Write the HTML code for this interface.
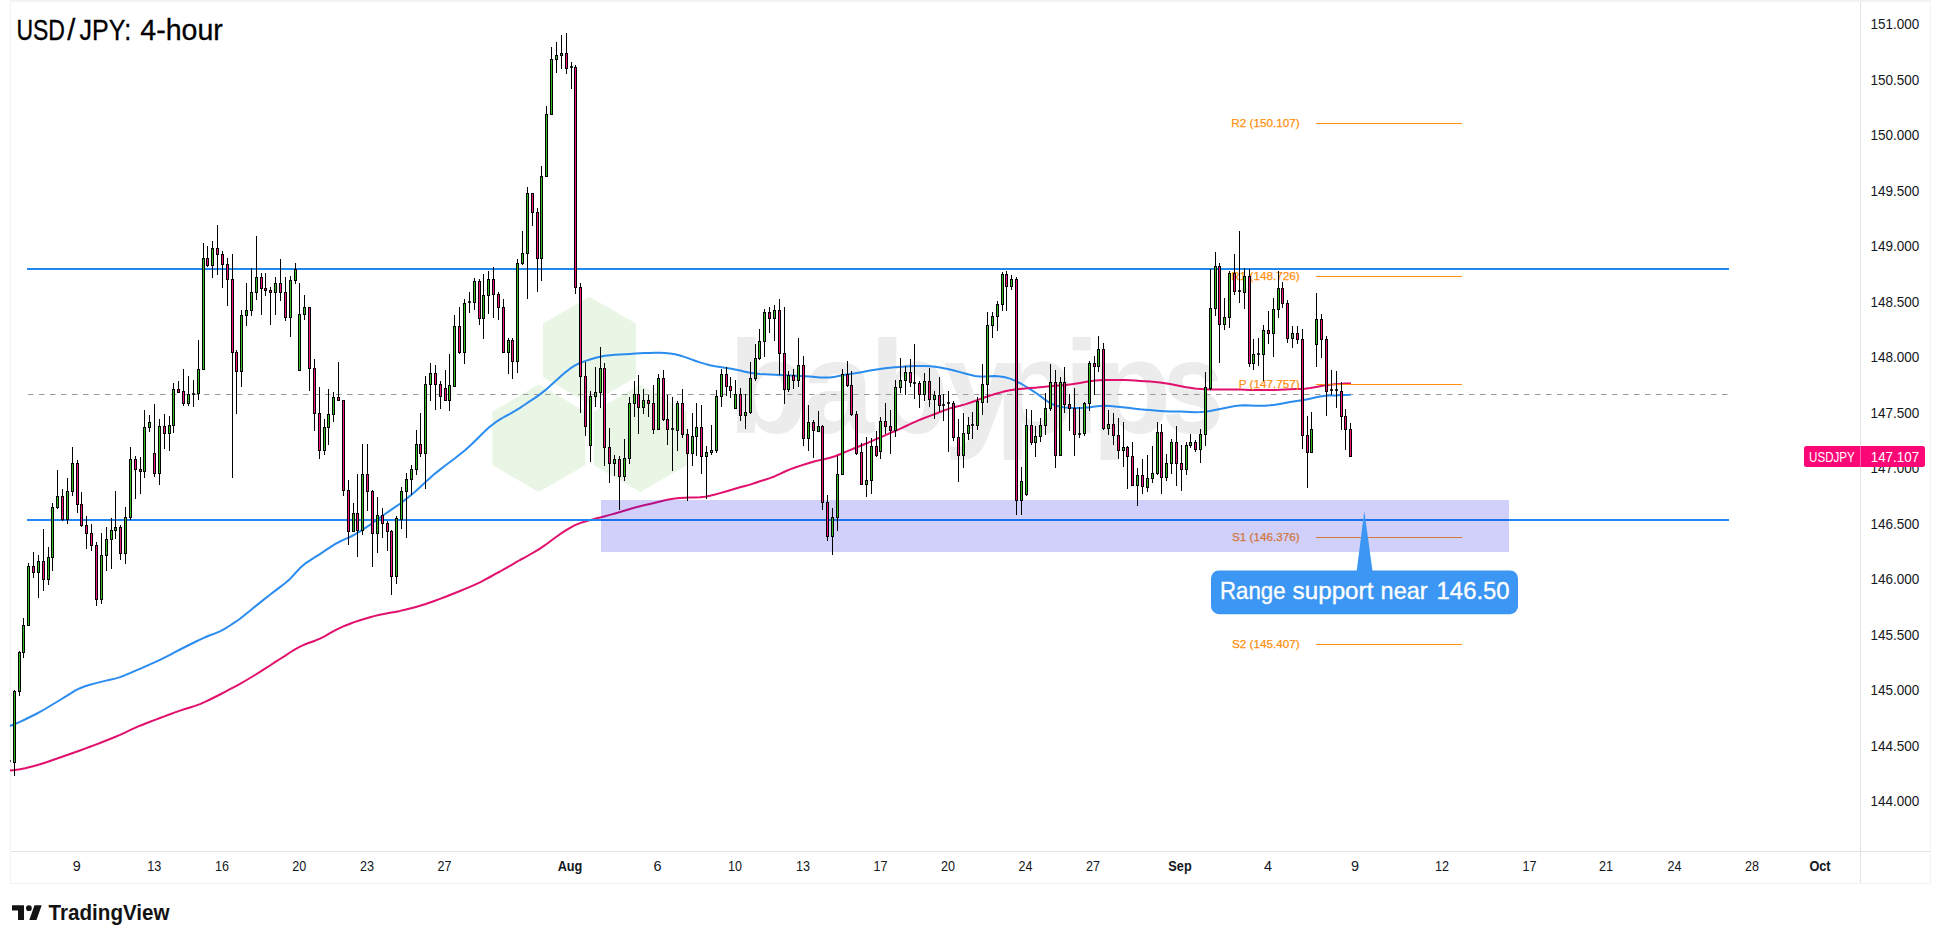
<!DOCTYPE html>
<html lang="en"><head><meta charset="utf-8"><title>USD/JPY: 4-hour</title>
<style>
html,body{margin:0;padding:0;background:#fff;}
body{width:1940px;height:943px;overflow:hidden;position:relative;font-family:"Liberation Sans",sans-serif;}
svg{position:absolute;left:0;top:0;display:block;}
text{font-family:"Liberation Sans",sans-serif;}
.ax{font-size:14.6px;fill:#131722;}
.tm{font-size:14.4px;fill:#131722;text-anchor:middle;}
.tmb{font-size:14.2px;fill:#131722;text-anchor:middle;font-weight:bold;}
.pv{font-size:11.7px;fill:#ff9010;text-anchor:end;stroke:#ff9010;stroke-width:0.25px;}
</style></head><body>
<svg width="1940" height="943" viewBox="0 0 1940 943">
<rect x="0" y="0" width="1940" height="943" fill="#ffffff"/>
<g shape-rendering="crispEdges">
<rect x="10" y="0" width="1921" height="2" fill="#f3f3f3"/>
<rect x="10" y="0" width="1" height="884" fill="#f3f3f3"/>
<rect x="1930" y="0" width="1" height="884" fill="#f3f3f3"/>
<rect x="10" y="883" width="1921" height="1" fill="#f3f3f3"/>
<rect x="11" y="851" width="1919" height="1" fill="#e2e2e6"/>
<rect x="1860" y="2" width="1" height="881" fill="#e2e2e6"/>
</g>
<g fill="#e9f6e6">
<polygon points="589.5,296.7 636.0,323.5 636.0,377.2 589.5,404.1 543.0,377.2 543.0,323.5"/>
<polygon points="538.8,384.6 585.3,411.4 585.3,465.2 538.8,492.0 492.3,465.2 492.3,411.4"/>
<polygon points="640.3,384.6 686.8,411.4 686.8,465.2 640.3,492.0 593.8,465.2 593.8,411.4"/>
</g>
<text y="433" font-size="131" font-weight="bold" fill="#ececec"><tspan x="728.3 801.4 869.3 943.4 994.7 1063.5 1091.6">babypip</tspan><tspan x="1162" textLength="62" lengthAdjust="spacingAndGlyphs">s</tspan></text>
<line x1="28" y1="394.5" x2="1727.5" y2="394.5" stroke="#9a9a9a" stroke-width="1" stroke-dasharray="5.5 5.5"/>
<path d="M10.0,726.0 L15.0,724.0 L20.0,721.8 L25.0,719.5 L30.0,717.0 L35.0,714.5 L40.0,711.8 L45.0,709.0 L50.0,706.0 L55.0,703.0 L60.0,700.0 L65.0,696.9 L70.0,693.8 L75.0,690.7 L80.0,688.2 L85.0,686.2 L90.0,684.8 L95.0,683.4 L100.0,682.1 L105.0,680.9 L110.0,679.8 L115.0,678.6 L120.0,677.1 L125.0,675.2 L130.0,673.1 L135.0,670.9 L140.0,668.8 L145.0,666.6 L150.0,664.4 L155.0,662.2 L160.0,659.8 L165.0,657.3 L170.0,654.8 L175.0,652.1 L180.0,649.5 L185.0,647.0 L190.0,644.5 L195.0,642.0 L200.0,639.6 L205.0,637.3 L210.0,635.3 L215.0,633.4 L220.0,631.3 L225.0,628.6 L230.0,625.5 L235.0,622.2 L240.0,618.7 L245.0,614.8 L250.0,610.8 L255.0,606.6 L260.0,602.6 L265.0,598.6 L270.0,594.8 L275.0,590.9 L280.0,587.1 L285.0,583.3 L290.0,578.9 L295.0,573.5 L300.0,568.1 L305.0,563.7 L310.0,560.3 L315.0,557.2 L320.0,554.1 L325.0,550.7 L330.0,547.3 L335.0,544.1 L340.0,541.5 L345.0,539.2 L350.0,537.0 L355.0,534.4 L360.0,531.4 L365.0,528.2 L370.0,524.8 L375.0,521.2 L380.0,517.6 L385.0,514.0 L390.0,510.6 L395.0,507.2 L400.0,503.7 L405.0,499.9 L410.0,495.9 L415.0,491.7 L420.0,487.2 L425.0,482.5 L430.0,477.9 L435.0,473.6 L440.0,469.6 L445.0,465.8 L450.0,462.0 L455.0,458.2 L460.0,454.3 L465.0,450.2 L470.0,445.7 L475.0,441.0 L480.0,436.0 L485.0,431.1 L490.0,426.6 L495.0,422.7 L500.0,419.4 L505.0,416.5 L510.0,413.8 L515.0,410.9 L520.0,407.8 L525.0,404.5 L530.0,401.2 L535.0,397.9 L540.0,394.4 L545.0,390.4 L550.0,386.0 L555.0,381.5 L560.0,377.0 L565.0,372.6 L570.0,368.7 L575.0,365.4 L580.0,363.0 L585.0,361.1 L590.0,359.5 L595.0,358.0 L600.0,356.8 L605.0,355.8 L610.0,355.2 L615.0,354.8 L620.0,354.5 L625.0,354.2 L630.0,353.9 L635.0,353.5 L640.0,353.2 L645.0,353.0 L650.0,352.9 L655.0,352.8 L660.0,352.8 L665.0,353.1 L670.0,353.6 L675.0,354.3 L680.0,355.5 L685.0,357.1 L690.0,358.9 L695.0,360.7 L700.0,362.4 L705.0,363.9 L710.0,365.2 L715.0,366.2 L720.0,367.0 L725.0,367.8 L730.0,368.6 L735.0,369.5 L740.0,370.6 L745.0,371.7 L750.0,372.7 L755.0,373.4 L760.0,373.9 L765.0,374.2 L770.0,374.5 L775.0,374.8 L780.0,375.0 L785.0,375.2 L790.0,375.5 L795.0,375.8 L800.0,376.0 L805.0,376.3 L810.0,376.6 L815.0,377.0 L820.0,377.4 L825.0,377.6 L830.0,377.4 L835.0,376.7 L840.0,375.7 L845.0,374.8 L850.0,374.0 L855.0,373.2 L860.0,372.4 L865.0,371.5 L870.0,370.6 L875.0,369.8 L880.0,369.0 L885.0,368.3 L890.0,367.7 L895.0,367.3 L900.0,366.9 L905.0,366.5 L910.0,366.2 L915.0,366.0 L920.0,366.0 L925.0,366.0 L930.0,366.3 L935.0,366.8 L940.0,367.6 L945.0,368.5 L950.0,369.6 L955.0,370.8 L960.0,372.1 L965.0,373.5 L970.0,374.8 L975.0,375.9 L980.0,376.4 L985.0,376.4 L990.0,376.2 L995.0,376.1 L1000.0,376.4 L1005.0,377.2 L1010.0,378.6 L1015.0,380.6 L1020.0,383.2 L1025.0,386.0 L1030.0,389.1 L1035.0,392.3 L1040.0,395.9 L1045.0,399.6 L1050.0,403.0 L1055.0,405.3 L1060.0,406.6 L1065.0,407.4 L1070.0,407.8 L1075.0,408.0 L1080.0,407.9 L1085.0,407.7 L1090.0,407.2 L1095.0,406.5 L1100.0,406.0 L1105.0,405.8 L1110.0,406.1 L1115.0,406.5 L1120.0,407.0 L1125.0,407.5 L1130.0,408.1 L1135.0,408.7 L1140.0,409.3 L1145.0,409.7 L1150.0,410.1 L1155.0,410.5 L1160.0,410.9 L1165.0,411.2 L1170.0,411.4 L1175.0,411.5 L1180.0,411.6 L1185.0,411.8 L1190.0,412.0 L1195.0,412.2 L1200.0,412.1 L1205.0,411.7 L1210.0,410.9 L1215.0,410.0 L1220.0,409.0 L1225.0,408.0 L1230.0,407.0 L1235.0,406.1 L1240.0,405.5 L1245.0,405.3 L1250.0,405.5 L1255.0,405.7 L1260.0,405.8 L1265.0,405.7 L1270.0,405.3 L1275.0,404.7 L1280.0,403.9 L1285.0,403.0 L1290.0,402.1 L1295.0,401.3 L1300.0,400.5 L1305.0,399.7 L1310.0,398.7 L1315.0,397.5 L1320.0,396.5 L1325.0,395.8 L1330.0,395.6 L1335.0,395.5 L1340.0,395.3 L1345.0,395.0 L1350.0,394.7 L1350.8,394.5" fill="none" stroke="#2b8cf0" stroke-width="2" stroke-linejoin="round"/>
<path d="M10.0,770.5 L15.0,770.0 L20.0,769.2 L25.0,768.2 L30.0,767.0 L35.0,765.7 L40.0,764.3 L45.0,762.7 L50.0,761.0 L55.0,759.2 L60.0,757.5 L65.0,755.8 L70.0,754.0 L75.0,752.2 L80.0,750.5 L85.0,748.6 L90.0,746.8 L95.0,744.9 L100.0,743.0 L105.0,741.0 L110.0,739.0 L115.0,737.0 L120.0,734.9 L125.0,732.6 L130.0,730.2 L135.0,727.9 L140.0,725.7 L145.0,723.7 L150.0,721.8 L155.0,719.9 L160.0,718.0 L165.0,716.1 L170.0,714.2 L175.0,712.4 L180.0,710.6 L185.0,709.0 L190.0,707.5 L195.0,705.9 L200.0,704.1 L205.0,701.9 L210.0,699.5 L215.0,697.0 L220.0,694.5 L225.0,691.9 L230.0,689.2 L235.0,686.6 L240.0,683.9 L245.0,681.0 L250.0,678.0 L255.0,675.0 L260.0,671.9 L265.0,668.7 L270.0,665.5 L275.0,662.2 L280.0,659.0 L285.0,655.8 L290.0,652.5 L295.0,649.3 L300.0,646.6 L305.0,644.3 L310.0,642.5 L315.0,640.7 L320.0,638.6 L325.0,636.1 L330.0,633.2 L335.0,630.4 L340.0,627.9 L345.0,625.7 L350.0,623.8 L355.0,621.9 L360.0,620.2 L365.0,618.7 L370.0,617.2 L375.0,615.9 L380.0,614.7 L385.0,613.7 L390.0,612.8 L395.0,611.9 L400.0,610.9 L405.0,609.7 L410.0,608.5 L415.0,607.2 L420.0,605.8 L425.0,604.2 L430.0,602.5 L435.0,600.7 L440.0,598.9 L445.0,597.0 L450.0,595.0 L455.0,593.0 L460.0,591.0 L465.0,588.9 L470.0,586.8 L475.0,584.6 L480.0,582.3 L485.0,579.7 L490.0,577.0 L495.0,574.2 L500.0,571.5 L505.0,568.6 L510.0,565.8 L515.0,562.9 L520.0,560.0 L525.0,557.3 L530.0,554.5 L535.0,551.7 L540.0,548.6 L545.0,545.2 L550.0,541.5 L555.0,537.8 L560.0,534.2 L565.0,530.9 L570.0,527.8 L575.0,525.1 L580.0,523.1 L585.0,521.5 L590.0,520.1 L595.0,518.8 L600.0,517.5 L605.0,516.2 L610.0,514.9 L615.0,513.5 L620.0,512.0 L625.0,510.5 L630.0,509.0 L635.0,507.5 L640.0,506.2 L645.0,505.0 L650.0,503.9 L655.0,502.7 L660.0,501.5 L665.0,500.3 L670.0,499.3 L675.0,498.6 L680.0,498.1 L685.0,497.8 L690.0,497.6 L695.0,497.5 L700.0,497.2 L705.0,496.7 L710.0,495.7 L715.0,494.5 L720.0,493.1 L725.0,491.7 L730.0,490.3 L735.0,488.8 L740.0,487.3 L745.0,486.0 L750.0,484.6 L755.0,483.0 L760.0,481.3 L765.0,479.7 L770.0,478.1 L775.0,476.2 L780.0,473.9 L785.0,471.5 L790.0,469.4 L795.0,467.5 L800.0,465.9 L805.0,464.3 L810.0,462.7 L815.0,461.3 L820.0,460.1 L825.0,459.0 L830.0,457.7 L835.0,456.2 L840.0,454.3 L845.0,452.2 L850.0,450.1 L855.0,448.0 L860.0,446.0 L865.0,444.0 L870.0,441.9 L875.0,439.7 L880.0,437.5 L885.0,435.3 L890.0,433.1 L895.0,431.0 L900.0,428.8 L905.0,426.5 L910.0,424.1 L915.0,421.8 L920.0,419.7 L925.0,417.8 L930.0,415.9 L935.0,414.0 L940.0,412.0 L945.0,410.1 L950.0,408.4 L955.0,407.0 L960.0,405.8 L965.0,404.4 L970.0,402.8 L975.0,401.0 L980.0,399.1 L985.0,397.3 L990.0,395.6 L995.0,394.0 L1000.0,392.6 L1005.0,391.3 L1010.0,390.3 L1015.0,389.5 L1020.0,389.0 L1025.0,388.5 L1030.0,388.1 L1035.0,387.7 L1040.0,387.3 L1045.0,386.8 L1050.0,386.2 L1055.0,385.8 L1060.0,385.4 L1065.0,385.0 L1070.0,384.4 L1075.0,383.7 L1080.0,382.9 L1085.0,382.0 L1090.0,381.2 L1095.0,380.6 L1100.0,380.2 L1105.0,380.0 L1110.0,380.0 L1115.0,380.0 L1120.0,380.0 L1125.0,380.0 L1130.0,380.2 L1135.0,380.5 L1140.0,380.9 L1145.0,381.2 L1150.0,381.6 L1155.0,382.0 L1160.0,382.6 L1165.0,383.3 L1170.0,384.1 L1175.0,385.0 L1180.0,386.0 L1185.0,387.0 L1190.0,387.8 L1195.0,388.5 L1200.0,388.9 L1205.0,389.2 L1210.0,389.4 L1215.0,389.5 L1220.0,389.5 L1225.0,389.5 L1230.0,389.5 L1235.0,389.5 L1240.0,389.6 L1245.0,389.8 L1250.0,389.9 L1255.0,390.0 L1260.0,390.0 L1265.0,390.0 L1270.0,390.0 L1275.0,390.0 L1280.0,389.8 L1285.0,389.5 L1290.0,389.2 L1295.0,389.0 L1300.0,388.9 L1305.0,388.7 L1310.0,388.1 L1315.0,387.2 L1320.0,386.2 L1325.0,385.3 L1330.0,384.7 L1335.0,384.3 L1340.0,383.9 L1345.0,383.5 L1350.0,383.2 L1350.8,383.0" fill="none" stroke="#e0106c" stroke-width="2" stroke-linejoin="round"/>
<g shape-rendering="crispEdges" fill="#2088ef">
<rect x="27" y="268" width="1702" height="2"/>
<rect x="27" y="519" width="1702" height="2"/>
</g>
<rect x="1316" y="123" width="146" height="1" fill="#ff9010" shape-rendering="crispEdges"/>
<text class="pv" x="1299.6" y="126.8">R2 (150.107)</text>
<rect x="1316" y="276" width="146" height="1" fill="#ff9010" shape-rendering="crispEdges"/>
<text class="pv" x="1299.6" y="279.8">R1 (148.726)</text>
<rect x="1316" y="384" width="146" height="1" fill="#ff9010" shape-rendering="crispEdges"/>
<text class="pv" x="1299.6" y="387.8">P (147.757)</text>
<rect x="1316" y="537" width="146" height="1" fill="#ff9010" shape-rendering="crispEdges"/>
<text class="pv" x="1299.6" y="540.8">S1 (146.376)</text>
<rect x="1316" y="644" width="146" height="1" fill="#ff9010" shape-rendering="crispEdges"/>
<text class="pv" x="1299.6" y="647.8">S2 (145.407)</text>
<rect x="601" y="500" width="908" height="52" fill="rgb(20,20,230)" fill-opacity="0.2" shape-rendering="crispEdges"/>
<g shape-rendering="crispEdges">
<rect x="14" y="690" width="1" height="86" fill="#000"/>
<rect x="13" y="691" width="3" height="72" fill="#000"/>
<rect x="14" y="692" width="1" height="70" fill="#33bb22"/>
<rect x="19" y="651" width="1" height="45" fill="#000"/>
<rect x="18" y="652" width="3" height="40" fill="#000"/>
<rect x="19" y="653" width="1" height="38" fill="#33bb22"/>
<rect x="23" y="618" width="1" height="40" fill="#000"/>
<rect x="22" y="625" width="3" height="28" fill="#000"/>
<rect x="23" y="626" width="1" height="26" fill="#33bb22"/>
<rect x="28" y="563" width="1" height="63" fill="#000"/>
<rect x="27" y="566" width="3" height="60" fill="#000"/>
<rect x="28" y="567" width="1" height="58" fill="#33bb22"/>
<rect x="33" y="552" width="1" height="26" fill="#000"/>
<rect x="32" y="566" width="3" height="7" fill="#000"/>
<rect x="33" y="567" width="1" height="5" fill="#f0147c"/>
<rect x="38" y="555" width="1" height="43" fill="#000"/>
<rect x="37" y="561" width="3" height="12" fill="#000"/>
<rect x="38" y="562" width="1" height="10" fill="#33bb22"/>
<rect x="43" y="529" width="1" height="62" fill="#000"/>
<rect x="42" y="561" width="3" height="19" fill="#000"/>
<rect x="43" y="562" width="1" height="17" fill="#f0147c"/>
<rect x="48" y="547" width="1" height="38" fill="#000"/>
<rect x="47" y="557" width="3" height="23" fill="#000"/>
<rect x="48" y="558" width="1" height="21" fill="#33bb22"/>
<rect x="52" y="503" width="1" height="68" fill="#000"/>
<rect x="51" y="507" width="3" height="51" fill="#000"/>
<rect x="52" y="508" width="1" height="49" fill="#33bb22"/>
<rect x="57" y="470" width="1" height="39" fill="#000"/>
<rect x="56" y="496" width="3" height="12" fill="#000"/>
<rect x="57" y="497" width="1" height="10" fill="#33bb22"/>
<rect x="62" y="489" width="1" height="32" fill="#000"/>
<rect x="61" y="496" width="3" height="24" fill="#000"/>
<rect x="62" y="497" width="1" height="22" fill="#f0147c"/>
<rect x="67" y="478" width="1" height="46" fill="#000"/>
<rect x="66" y="491" width="3" height="29" fill="#000"/>
<rect x="67" y="492" width="1" height="27" fill="#33bb22"/>
<rect x="72" y="447" width="1" height="49" fill="#000"/>
<rect x="71" y="463" width="3" height="29" fill="#000"/>
<rect x="72" y="464" width="1" height="27" fill="#33bb22"/>
<rect x="77" y="460" width="1" height="53" fill="#000"/>
<rect x="76" y="463" width="3" height="42" fill="#000"/>
<rect x="77" y="464" width="1" height="40" fill="#f0147c"/>
<rect x="81" y="492" width="1" height="35" fill="#000"/>
<rect x="80" y="504" width="3" height="22" fill="#000"/>
<rect x="81" y="505" width="1" height="20" fill="#f0147c"/>
<rect x="86" y="516" width="1" height="33" fill="#000"/>
<rect x="85" y="525" width="3" height="9" fill="#000"/>
<rect x="86" y="526" width="1" height="7" fill="#f0147c"/>
<rect x="91" y="524" width="1" height="27" fill="#000"/>
<rect x="90" y="533" width="3" height="13" fill="#000"/>
<rect x="91" y="534" width="1" height="11" fill="#f0147c"/>
<rect x="96" y="542" width="1" height="64" fill="#000"/>
<rect x="95" y="545" width="3" height="55" fill="#000"/>
<rect x="96" y="546" width="1" height="53" fill="#f0147c"/>
<rect x="101" y="533" width="1" height="71" fill="#000"/>
<rect x="100" y="555" width="3" height="45" fill="#000"/>
<rect x="101" y="556" width="1" height="43" fill="#33bb22"/>
<rect x="106" y="527" width="1" height="44" fill="#000"/>
<rect x="105" y="539" width="3" height="17" fill="#000"/>
<rect x="106" y="540" width="1" height="15" fill="#33bb22"/>
<rect x="111" y="518" width="1" height="51" fill="#000"/>
<rect x="110" y="530" width="3" height="10" fill="#000"/>
<rect x="111" y="531" width="1" height="8" fill="#33bb22"/>
<rect x="115" y="491" width="1" height="48" fill="#000"/>
<rect x="114" y="527" width="3" height="4" fill="#000"/>
<rect x="115" y="528" width="1" height="2" fill="#33bb22"/>
<rect x="120" y="525" width="1" height="35" fill="#000"/>
<rect x="119" y="527" width="3" height="27" fill="#000"/>
<rect x="120" y="528" width="1" height="25" fill="#f0147c"/>
<rect x="125" y="507" width="1" height="57" fill="#000"/>
<rect x="124" y="517" width="3" height="37" fill="#000"/>
<rect x="125" y="518" width="1" height="35" fill="#33bb22"/>
<rect x="130" y="447" width="1" height="73" fill="#000"/>
<rect x="129" y="459" width="3" height="59" fill="#000"/>
<rect x="130" y="460" width="1" height="57" fill="#33bb22"/>
<rect x="135" y="456" width="1" height="43" fill="#000"/>
<rect x="134" y="459" width="3" height="11" fill="#000"/>
<rect x="135" y="460" width="1" height="9" fill="#f0147c"/>
<rect x="140" y="457" width="1" height="37" fill="#000"/>
<rect x="139" y="469" width="3" height="3" fill="#000"/>
<rect x="140" y="470" width="1" height="1" fill="#f0147c"/>
<rect x="144" y="410" width="1" height="68" fill="#000"/>
<rect x="143" y="427" width="3" height="45" fill="#000"/>
<rect x="144" y="428" width="1" height="43" fill="#33bb22"/>
<rect x="149" y="415" width="1" height="17" fill="#000"/>
<rect x="148" y="422" width="3" height="6" fill="#000"/>
<rect x="149" y="423" width="1" height="4" fill="#33bb22"/>
<rect x="154" y="404" width="1" height="73" fill="#000"/>
<rect x="153" y="453" width="3" height="21" fill="#000"/>
<rect x="154" y="454" width="1" height="19" fill="#f0147c"/>
<rect x="159" y="419" width="1" height="66" fill="#000"/>
<rect x="158" y="426" width="3" height="48" fill="#000"/>
<rect x="159" y="427" width="1" height="46" fill="#33bb22"/>
<rect x="164" y="414" width="1" height="35" fill="#000"/>
<rect x="163" y="426" width="3" height="8" fill="#000"/>
<rect x="164" y="427" width="1" height="6" fill="#f0147c"/>
<rect x="169" y="416" width="1" height="35" fill="#000"/>
<rect x="168" y="425" width="3" height="9" fill="#000"/>
<rect x="169" y="426" width="1" height="7" fill="#33bb22"/>
<rect x="173" y="383" width="1" height="50" fill="#000"/>
<rect x="172" y="389" width="3" height="37" fill="#000"/>
<rect x="173" y="390" width="1" height="35" fill="#33bb22"/>
<rect x="178" y="381" width="1" height="12" fill="#000"/>
<rect x="177" y="389" width="3" height="4" fill="#000"/>
<rect x="178" y="390" width="1" height="2" fill="#f0147c"/>
<rect x="183" y="369" width="1" height="37" fill="#000"/>
<rect x="182" y="391" width="3" height="13" fill="#000"/>
<rect x="183" y="392" width="1" height="11" fill="#f0147c"/>
<rect x="188" y="376" width="1" height="30" fill="#000"/>
<rect x="187" y="394" width="3" height="10" fill="#000"/>
<rect x="188" y="395" width="1" height="8" fill="#33bb22"/>
<rect x="193" y="380" width="1" height="27" fill="#000"/>
<rect x="192" y="393" width="3" height="2" fill="#000" fill-opacity="0.8"/>
<rect x="198" y="340" width="1" height="60" fill="#000"/>
<rect x="197" y="369" width="3" height="25" fill="#000"/>
<rect x="198" y="370" width="1" height="23" fill="#33bb22"/>
<rect x="203" y="243" width="1" height="127" fill="#000"/>
<rect x="202" y="258" width="3" height="112" fill="#000"/>
<rect x="203" y="259" width="1" height="110" fill="#33bb22"/>
<rect x="207" y="246" width="1" height="21" fill="#000"/>
<rect x="206" y="258" width="3" height="8" fill="#000"/>
<rect x="207" y="259" width="1" height="6" fill="#f0147c"/>
<rect x="212" y="241" width="1" height="37" fill="#000"/>
<rect x="211" y="248" width="3" height="18" fill="#000"/>
<rect x="212" y="249" width="1" height="16" fill="#33bb22"/>
<rect x="217" y="225" width="1" height="50" fill="#000"/>
<rect x="216" y="248" width="3" height="7" fill="#000"/>
<rect x="217" y="249" width="1" height="5" fill="#f0147c"/>
<rect x="222" y="251" width="1" height="37" fill="#000"/>
<rect x="221" y="254" width="3" height="11" fill="#000"/>
<rect x="222" y="255" width="1" height="9" fill="#f0147c"/>
<rect x="227" y="258" width="1" height="48" fill="#000"/>
<rect x="226" y="264" width="3" height="16" fill="#000"/>
<rect x="227" y="265" width="1" height="14" fill="#f0147c"/>
<rect x="232" y="254" width="1" height="224" fill="#000"/>
<rect x="231" y="279" width="3" height="74" fill="#000"/>
<rect x="232" y="280" width="1" height="72" fill="#f0147c"/>
<rect x="236" y="350" width="1" height="64" fill="#000"/>
<rect x="235" y="352" width="3" height="20" fill="#000"/>
<rect x="236" y="353" width="1" height="18" fill="#f0147c"/>
<rect x="241" y="310" width="1" height="77" fill="#000"/>
<rect x="240" y="315" width="3" height="57" fill="#000"/>
<rect x="241" y="316" width="1" height="55" fill="#33bb22"/>
<rect x="246" y="283" width="1" height="43" fill="#000"/>
<rect x="245" y="310" width="3" height="6" fill="#000"/>
<rect x="246" y="311" width="1" height="4" fill="#33bb22"/>
<rect x="251" y="268" width="1" height="48" fill="#000"/>
<rect x="250" y="292" width="3" height="19" fill="#000"/>
<rect x="251" y="293" width="1" height="17" fill="#33bb22"/>
<rect x="256" y="236" width="1" height="64" fill="#000"/>
<rect x="255" y="277" width="3" height="16" fill="#000"/>
<rect x="256" y="278" width="1" height="14" fill="#33bb22"/>
<rect x="261" y="273" width="1" height="42" fill="#000"/>
<rect x="260" y="277" width="3" height="12" fill="#000"/>
<rect x="261" y="278" width="1" height="10" fill="#f0147c"/>
<rect x="265" y="273" width="1" height="23" fill="#000"/>
<rect x="264" y="288" width="3" height="3" fill="#000"/>
<rect x="265" y="289" width="1" height="1" fill="#f0147c"/>
<rect x="270" y="287" width="1" height="38" fill="#000"/>
<rect x="269" y="290" width="3" height="3" fill="#000"/>
<rect x="270" y="291" width="1" height="1" fill="#f0147c"/>
<rect x="275" y="277" width="1" height="38" fill="#000"/>
<rect x="274" y="283" width="3" height="10" fill="#000"/>
<rect x="275" y="284" width="1" height="8" fill="#33bb22"/>
<rect x="280" y="259" width="1" height="42" fill="#000"/>
<rect x="279" y="283" width="3" height="10" fill="#000"/>
<rect x="280" y="284" width="1" height="8" fill="#f0147c"/>
<rect x="285" y="277" width="1" height="44" fill="#000"/>
<rect x="284" y="292" width="3" height="26" fill="#000"/>
<rect x="285" y="293" width="1" height="24" fill="#f0147c"/>
<rect x="290" y="276" width="1" height="61" fill="#000"/>
<rect x="289" y="280" width="3" height="38" fill="#000"/>
<rect x="290" y="281" width="1" height="36" fill="#33bb22"/>
<rect x="295" y="263" width="1" height="21" fill="#000"/>
<rect x="294" y="269" width="3" height="12" fill="#000"/>
<rect x="295" y="270" width="1" height="10" fill="#33bb22"/>
<rect x="299" y="283" width="1" height="88" fill="#000"/>
<rect x="298" y="314" width="3" height="57" fill="#000"/>
<rect x="299" y="315" width="1" height="55" fill="#33bb22"/>
<rect x="304" y="295" width="1" height="25" fill="#000"/>
<rect x="303" y="307" width="3" height="8" fill="#000"/>
<rect x="304" y="308" width="1" height="6" fill="#33bb22"/>
<rect x="309" y="307" width="1" height="84" fill="#000"/>
<rect x="308" y="307" width="3" height="62" fill="#000"/>
<rect x="309" y="308" width="1" height="60" fill="#f0147c"/>
<rect x="314" y="359" width="1" height="72" fill="#000"/>
<rect x="313" y="368" width="3" height="46" fill="#000"/>
<rect x="314" y="369" width="1" height="44" fill="#f0147c"/>
<rect x="319" y="387" width="1" height="72" fill="#000"/>
<rect x="318" y="413" width="3" height="38" fill="#000"/>
<rect x="319" y="414" width="1" height="36" fill="#f0147c"/>
<rect x="324" y="419" width="1" height="36" fill="#000"/>
<rect x="323" y="427" width="3" height="24" fill="#000"/>
<rect x="324" y="428" width="1" height="22" fill="#33bb22"/>
<rect x="328" y="389" width="1" height="56" fill="#000"/>
<rect x="327" y="414" width="3" height="14" fill="#000"/>
<rect x="328" y="415" width="1" height="12" fill="#33bb22"/>
<rect x="333" y="392" width="1" height="30" fill="#000"/>
<rect x="332" y="397" width="3" height="18" fill="#000"/>
<rect x="333" y="398" width="1" height="16" fill="#33bb22"/>
<rect x="338" y="362" width="1" height="39" fill="#000"/>
<rect x="337" y="397" width="3" height="4" fill="#000"/>
<rect x="338" y="398" width="1" height="2" fill="#f0147c"/>
<rect x="343" y="400" width="1" height="96" fill="#000"/>
<rect x="342" y="400" width="3" height="91" fill="#000"/>
<rect x="343" y="401" width="1" height="89" fill="#f0147c"/>
<rect x="348" y="480" width="1" height="65" fill="#000"/>
<rect x="347" y="490" width="3" height="42" fill="#000"/>
<rect x="348" y="491" width="1" height="40" fill="#f0147c"/>
<rect x="353" y="503" width="1" height="29" fill="#000"/>
<rect x="352" y="513" width="3" height="19" fill="#000"/>
<rect x="353" y="514" width="1" height="17" fill="#33bb22"/>
<rect x="357" y="474" width="1" height="83" fill="#000"/>
<rect x="356" y="513" width="3" height="18" fill="#000"/>
<rect x="357" y="514" width="1" height="16" fill="#f0147c"/>
<rect x="362" y="444" width="1" height="91" fill="#000"/>
<rect x="361" y="474" width="3" height="57" fill="#000"/>
<rect x="362" y="475" width="1" height="55" fill="#33bb22"/>
<rect x="367" y="444" width="1" height="67" fill="#000"/>
<rect x="366" y="474" width="3" height="18" fill="#000"/>
<rect x="367" y="475" width="1" height="16" fill="#f0147c"/>
<rect x="372" y="490" width="1" height="77" fill="#000"/>
<rect x="371" y="491" width="3" height="43" fill="#000"/>
<rect x="372" y="492" width="1" height="41" fill="#f0147c"/>
<rect x="377" y="497" width="1" height="56" fill="#000"/>
<rect x="376" y="515" width="3" height="19" fill="#000"/>
<rect x="377" y="516" width="1" height="17" fill="#33bb22"/>
<rect x="382" y="508" width="1" height="30" fill="#000"/>
<rect x="381" y="515" width="3" height="9" fill="#000"/>
<rect x="382" y="516" width="1" height="7" fill="#f0147c"/>
<rect x="387" y="521" width="1" height="30" fill="#000"/>
<rect x="386" y="523" width="3" height="9" fill="#000"/>
<rect x="387" y="524" width="1" height="7" fill="#f0147c"/>
<rect x="391" y="530" width="1" height="65" fill="#000"/>
<rect x="390" y="531" width="3" height="46" fill="#000"/>
<rect x="391" y="532" width="1" height="44" fill="#f0147c"/>
<rect x="396" y="516" width="1" height="68" fill="#000"/>
<rect x="395" y="518" width="3" height="59" fill="#000"/>
<rect x="396" y="519" width="1" height="57" fill="#33bb22"/>
<rect x="401" y="487" width="1" height="42" fill="#000"/>
<rect x="400" y="491" width="3" height="29" fill="#000"/>
<rect x="401" y="492" width="1" height="27" fill="#33bb22"/>
<rect x="406" y="473" width="1" height="65" fill="#000"/>
<rect x="405" y="479" width="3" height="13" fill="#000"/>
<rect x="406" y="480" width="1" height="11" fill="#33bb22"/>
<rect x="411" y="465" width="1" height="30" fill="#000"/>
<rect x="410" y="469" width="3" height="11" fill="#000"/>
<rect x="411" y="470" width="1" height="9" fill="#33bb22"/>
<rect x="416" y="430" width="1" height="45" fill="#000"/>
<rect x="415" y="444" width="3" height="26" fill="#000"/>
<rect x="416" y="445" width="1" height="24" fill="#33bb22"/>
<rect x="420" y="413" width="1" height="44" fill="#000"/>
<rect x="419" y="444" width="3" height="10" fill="#000"/>
<rect x="420" y="445" width="1" height="8" fill="#f0147c"/>
<rect x="425" y="376" width="1" height="113" fill="#000"/>
<rect x="424" y="384" width="3" height="70" fill="#000"/>
<rect x="425" y="385" width="1" height="68" fill="#33bb22"/>
<rect x="430" y="363" width="1" height="38" fill="#000"/>
<rect x="429" y="373" width="3" height="12" fill="#000"/>
<rect x="430" y="374" width="1" height="10" fill="#33bb22"/>
<rect x="435" y="365" width="1" height="45" fill="#000"/>
<rect x="434" y="373" width="3" height="12" fill="#000"/>
<rect x="435" y="374" width="1" height="10" fill="#f0147c"/>
<rect x="440" y="381" width="1" height="28" fill="#000"/>
<rect x="439" y="384" width="3" height="13" fill="#000"/>
<rect x="440" y="385" width="1" height="11" fill="#f0147c"/>
<rect x="445" y="370" width="1" height="31" fill="#000"/>
<rect x="444" y="388" width="3" height="13" fill="#000"/>
<rect x="445" y="389" width="1" height="11" fill="#f0147c"/>
<rect x="449" y="354" width="1" height="57" fill="#000"/>
<rect x="448" y="385" width="3" height="16" fill="#000"/>
<rect x="449" y="386" width="1" height="14" fill="#33bb22"/>
<rect x="454" y="315" width="1" height="72" fill="#000"/>
<rect x="453" y="326" width="3" height="61" fill="#000"/>
<rect x="454" y="327" width="1" height="59" fill="#33bb22"/>
<rect x="459" y="307" width="1" height="47" fill="#000"/>
<rect x="458" y="326" width="3" height="27" fill="#000"/>
<rect x="459" y="327" width="1" height="25" fill="#f0147c"/>
<rect x="464" y="299" width="1" height="65" fill="#000"/>
<rect x="463" y="303" width="3" height="50" fill="#000"/>
<rect x="464" y="304" width="1" height="48" fill="#33bb22"/>
<rect x="469" y="292" width="1" height="21" fill="#000"/>
<rect x="468" y="301" width="3" height="2" fill="#000" fill-opacity="0.8"/>
<rect x="474" y="278" width="1" height="32" fill="#000"/>
<rect x="473" y="281" width="3" height="22" fill="#000"/>
<rect x="474" y="282" width="1" height="20" fill="#33bb22"/>
<rect x="479" y="279" width="1" height="46" fill="#000"/>
<rect x="478" y="281" width="3" height="38" fill="#000"/>
<rect x="479" y="282" width="1" height="36" fill="#f0147c"/>
<rect x="483" y="274" width="1" height="65" fill="#000"/>
<rect x="482" y="295" width="3" height="24" fill="#000"/>
<rect x="483" y="296" width="1" height="22" fill="#33bb22"/>
<rect x="488" y="271" width="1" height="43" fill="#000"/>
<rect x="487" y="279" width="3" height="17" fill="#000"/>
<rect x="488" y="280" width="1" height="15" fill="#33bb22"/>
<rect x="493" y="267" width="1" height="51" fill="#000"/>
<rect x="492" y="279" width="3" height="16" fill="#000"/>
<rect x="493" y="280" width="1" height="14" fill="#f0147c"/>
<rect x="498" y="292" width="1" height="28" fill="#000"/>
<rect x="497" y="294" width="3" height="14" fill="#000"/>
<rect x="498" y="295" width="1" height="12" fill="#f0147c"/>
<rect x="503" y="299" width="1" height="54" fill="#000"/>
<rect x="502" y="307" width="3" height="46" fill="#000"/>
<rect x="503" y="308" width="1" height="44" fill="#f0147c"/>
<rect x="508" y="338" width="1" height="36" fill="#000"/>
<rect x="507" y="340" width="3" height="13" fill="#000"/>
<rect x="508" y="341" width="1" height="11" fill="#33bb22"/>
<rect x="512" y="338" width="1" height="41" fill="#000"/>
<rect x="511" y="340" width="3" height="22" fill="#000"/>
<rect x="512" y="341" width="1" height="20" fill="#f0147c"/>
<rect x="517" y="259" width="1" height="114" fill="#000"/>
<rect x="516" y="263" width="3" height="99" fill="#000"/>
<rect x="517" y="264" width="1" height="97" fill="#33bb22"/>
<rect x="522" y="231" width="1" height="34" fill="#000"/>
<rect x="521" y="253" width="3" height="11" fill="#000"/>
<rect x="522" y="254" width="1" height="9" fill="#33bb22"/>
<rect x="527" y="187" width="1" height="112" fill="#000"/>
<rect x="526" y="193" width="3" height="61" fill="#000"/>
<rect x="527" y="194" width="1" height="59" fill="#33bb22"/>
<rect x="532" y="193" width="1" height="33" fill="#000"/>
<rect x="531" y="193" width="3" height="20" fill="#000"/>
<rect x="532" y="194" width="1" height="18" fill="#f0147c"/>
<rect x="537" y="208" width="1" height="84" fill="#000"/>
<rect x="536" y="212" width="3" height="47" fill="#000"/>
<rect x="537" y="213" width="1" height="45" fill="#f0147c"/>
<rect x="541" y="166" width="1" height="115" fill="#000"/>
<rect x="540" y="176" width="3" height="83" fill="#000"/>
<rect x="541" y="177" width="1" height="81" fill="#33bb22"/>
<rect x="546" y="106" width="1" height="71" fill="#000"/>
<rect x="545" y="114" width="3" height="63" fill="#000"/>
<rect x="546" y="115" width="1" height="61" fill="#33bb22"/>
<rect x="551" y="47" width="1" height="68" fill="#000"/>
<rect x="550" y="59" width="3" height="56" fill="#000"/>
<rect x="551" y="60" width="1" height="54" fill="#33bb22"/>
<rect x="556" y="42" width="1" height="31" fill="#000"/>
<rect x="555" y="55" width="3" height="5" fill="#000"/>
<rect x="556" y="56" width="1" height="3" fill="#33bb22"/>
<rect x="561" y="35" width="1" height="34" fill="#000"/>
<rect x="560" y="53" width="3" height="3" fill="#000"/>
<rect x="561" y="54" width="1" height="1" fill="#33bb22"/>
<rect x="566" y="33" width="1" height="41" fill="#000"/>
<rect x="565" y="53" width="3" height="16" fill="#000"/>
<rect x="566" y="54" width="1" height="14" fill="#f0147c"/>
<rect x="571" y="62" width="1" height="27" fill="#000"/>
<rect x="570" y="66" width="3" height="2" fill="#000" fill-opacity="0.8"/>
<rect x="575" y="65" width="1" height="229" fill="#000"/>
<rect x="574" y="67" width="3" height="221" fill="#000"/>
<rect x="575" y="68" width="1" height="219" fill="#f0147c"/>
<rect x="580" y="283" width="1" height="130" fill="#000"/>
<rect x="579" y="287" width="3" height="90" fill="#000"/>
<rect x="580" y="288" width="1" height="88" fill="#f0147c"/>
<rect x="585" y="362" width="1" height="74" fill="#000"/>
<rect x="584" y="376" width="3" height="51" fill="#000"/>
<rect x="585" y="377" width="1" height="49" fill="#f0147c"/>
<rect x="590" y="391" width="1" height="71" fill="#000"/>
<rect x="589" y="396" width="3" height="50" fill="#000"/>
<rect x="590" y="397" width="1" height="48" fill="#33bb22"/>
<rect x="595" y="367" width="1" height="40" fill="#000"/>
<rect x="594" y="392" width="3" height="5" fill="#000"/>
<rect x="595" y="393" width="1" height="3" fill="#33bb22"/>
<rect x="600" y="347" width="1" height="61" fill="#000"/>
<rect x="599" y="368" width="3" height="25" fill="#000"/>
<rect x="600" y="369" width="1" height="23" fill="#33bb22"/>
<rect x="604" y="363" width="1" height="103" fill="#000"/>
<rect x="603" y="368" width="3" height="80" fill="#000"/>
<rect x="604" y="369" width="1" height="78" fill="#f0147c"/>
<rect x="609" y="428" width="1" height="55" fill="#000"/>
<rect x="608" y="447" width="3" height="17" fill="#000"/>
<rect x="609" y="448" width="1" height="15" fill="#f0147c"/>
<rect x="614" y="455" width="1" height="21" fill="#000"/>
<rect x="613" y="459" width="3" height="5" fill="#000"/>
<rect x="614" y="460" width="1" height="3" fill="#33bb22"/>
<rect x="619" y="456" width="1" height="54" fill="#000"/>
<rect x="618" y="459" width="3" height="18" fill="#000"/>
<rect x="619" y="460" width="1" height="16" fill="#f0147c"/>
<rect x="624" y="439" width="1" height="42" fill="#000"/>
<rect x="623" y="458" width="3" height="19" fill="#000"/>
<rect x="624" y="459" width="1" height="17" fill="#33bb22"/>
<rect x="629" y="397" width="1" height="67" fill="#000"/>
<rect x="628" y="403" width="3" height="56" fill="#000"/>
<rect x="629" y="404" width="1" height="54" fill="#33bb22"/>
<rect x="634" y="381" width="1" height="36" fill="#000"/>
<rect x="633" y="394" width="3" height="10" fill="#000"/>
<rect x="634" y="395" width="1" height="8" fill="#33bb22"/>
<rect x="638" y="375" width="1" height="59" fill="#000"/>
<rect x="637" y="394" width="3" height="14" fill="#000"/>
<rect x="638" y="395" width="1" height="12" fill="#f0147c"/>
<rect x="643" y="389" width="1" height="25" fill="#000"/>
<rect x="642" y="400" width="3" height="8" fill="#000"/>
<rect x="643" y="401" width="1" height="6" fill="#33bb22"/>
<rect x="648" y="395" width="1" height="22" fill="#000"/>
<rect x="647" y="400" width="3" height="4" fill="#000"/>
<rect x="648" y="401" width="1" height="2" fill="#f0147c"/>
<rect x="653" y="385" width="1" height="49" fill="#000"/>
<rect x="652" y="403" width="3" height="27" fill="#000"/>
<rect x="653" y="404" width="1" height="25" fill="#f0147c"/>
<rect x="658" y="374" width="1" height="56" fill="#000"/>
<rect x="657" y="378" width="3" height="52" fill="#000"/>
<rect x="658" y="379" width="1" height="50" fill="#33bb22"/>
<rect x="663" y="370" width="1" height="51" fill="#000"/>
<rect x="662" y="378" width="3" height="42" fill="#000"/>
<rect x="663" y="379" width="1" height="40" fill="#f0147c"/>
<rect x="667" y="395" width="1" height="50" fill="#000"/>
<rect x="666" y="419" width="3" height="11" fill="#000"/>
<rect x="667" y="420" width="1" height="9" fill="#f0147c"/>
<rect x="672" y="397" width="1" height="74" fill="#000"/>
<rect x="671" y="428" width="3" height="2" fill="#000" fill-opacity="0.8"/>
<rect x="677" y="401" width="1" height="50" fill="#000"/>
<rect x="676" y="403" width="3" height="28" fill="#000"/>
<rect x="677" y="404" width="1" height="26" fill="#33bb22"/>
<rect x="682" y="389" width="1" height="49" fill="#000"/>
<rect x="681" y="403" width="3" height="32" fill="#000"/>
<rect x="682" y="404" width="1" height="30" fill="#f0147c"/>
<rect x="687" y="429" width="1" height="72" fill="#000"/>
<rect x="686" y="434" width="3" height="20" fill="#000"/>
<rect x="687" y="435" width="1" height="18" fill="#f0147c"/>
<rect x="692" y="413" width="1" height="53" fill="#000"/>
<rect x="691" y="436" width="3" height="18" fill="#000"/>
<rect x="692" y="437" width="1" height="16" fill="#33bb22"/>
<rect x="696" y="403" width="1" height="53" fill="#000"/>
<rect x="695" y="427" width="3" height="10" fill="#000"/>
<rect x="696" y="428" width="1" height="8" fill="#33bb22"/>
<rect x="701" y="405" width="1" height="69" fill="#000"/>
<rect x="700" y="427" width="3" height="30" fill="#000"/>
<rect x="701" y="428" width="1" height="28" fill="#f0147c"/>
<rect x="706" y="446" width="1" height="53" fill="#000"/>
<rect x="705" y="452" width="3" height="5" fill="#000"/>
<rect x="706" y="453" width="1" height="3" fill="#33bb22"/>
<rect x="711" y="425" width="1" height="30" fill="#000"/>
<rect x="710" y="450" width="3" height="3" fill="#000"/>
<rect x="711" y="451" width="1" height="1" fill="#33bb22"/>
<rect x="716" y="390" width="1" height="63" fill="#000"/>
<rect x="715" y="396" width="3" height="55" fill="#000"/>
<rect x="716" y="397" width="1" height="53" fill="#33bb22"/>
<rect x="721" y="369" width="1" height="38" fill="#000"/>
<rect x="720" y="374" width="3" height="23" fill="#000"/>
<rect x="721" y="375" width="1" height="21" fill="#33bb22"/>
<rect x="726" y="367" width="1" height="29" fill="#000"/>
<rect x="725" y="374" width="3" height="13" fill="#000"/>
<rect x="726" y="375" width="1" height="11" fill="#f0147c"/>
<rect x="730" y="377" width="1" height="21" fill="#000"/>
<rect x="729" y="386" width="3" height="5" fill="#000"/>
<rect x="730" y="387" width="1" height="3" fill="#f0147c"/>
<rect x="735" y="380" width="1" height="29" fill="#000"/>
<rect x="734" y="394" width="3" height="15" fill="#000"/>
<rect x="735" y="395" width="1" height="13" fill="#33bb22"/>
<rect x="740" y="388" width="1" height="33" fill="#000"/>
<rect x="739" y="394" width="3" height="22" fill="#000"/>
<rect x="740" y="395" width="1" height="20" fill="#f0147c"/>
<rect x="745" y="394" width="1" height="35" fill="#000"/>
<rect x="744" y="412" width="3" height="4" fill="#000"/>
<rect x="745" y="413" width="1" height="2" fill="#33bb22"/>
<rect x="750" y="362" width="1" height="52" fill="#000"/>
<rect x="749" y="378" width="3" height="35" fill="#000"/>
<rect x="750" y="379" width="1" height="33" fill="#33bb22"/>
<rect x="755" y="344" width="1" height="37" fill="#000"/>
<rect x="754" y="358" width="3" height="21" fill="#000"/>
<rect x="755" y="359" width="1" height="19" fill="#33bb22"/>
<rect x="759" y="329" width="1" height="31" fill="#000"/>
<rect x="758" y="341" width="3" height="18" fill="#000"/>
<rect x="759" y="342" width="1" height="16" fill="#33bb22"/>
<rect x="764" y="309" width="1" height="48" fill="#000"/>
<rect x="763" y="312" width="3" height="30" fill="#000"/>
<rect x="764" y="313" width="1" height="28" fill="#33bb22"/>
<rect x="769" y="307" width="1" height="26" fill="#000"/>
<rect x="768" y="312" width="3" height="7" fill="#000"/>
<rect x="769" y="313" width="1" height="5" fill="#f0147c"/>
<rect x="774" y="305" width="1" height="36" fill="#000"/>
<rect x="773" y="310" width="3" height="9" fill="#000"/>
<rect x="774" y="311" width="1" height="7" fill="#33bb22"/>
<rect x="779" y="299" width="1" height="76" fill="#000"/>
<rect x="778" y="310" width="3" height="44" fill="#000"/>
<rect x="779" y="311" width="1" height="42" fill="#f0147c"/>
<rect x="784" y="307" width="1" height="97" fill="#000"/>
<rect x="783" y="353" width="3" height="37" fill="#000"/>
<rect x="784" y="354" width="1" height="35" fill="#f0147c"/>
<rect x="788" y="371" width="1" height="21" fill="#000"/>
<rect x="787" y="375" width="3" height="15" fill="#000"/>
<rect x="788" y="376" width="1" height="13" fill="#33bb22"/>
<rect x="793" y="369" width="1" height="20" fill="#000"/>
<rect x="792" y="375" width="3" height="6" fill="#000"/>
<rect x="793" y="376" width="1" height="4" fill="#f0147c"/>
<rect x="798" y="338" width="1" height="49" fill="#000"/>
<rect x="797" y="365" width="3" height="16" fill="#000"/>
<rect x="798" y="366" width="1" height="14" fill="#33bb22"/>
<rect x="803" y="356" width="1" height="90" fill="#000"/>
<rect x="802" y="365" width="3" height="74" fill="#000"/>
<rect x="803" y="366" width="1" height="72" fill="#f0147c"/>
<rect x="808" y="405" width="1" height="46" fill="#000"/>
<rect x="807" y="422" width="3" height="17" fill="#000"/>
<rect x="808" y="423" width="1" height="15" fill="#33bb22"/>
<rect x="813" y="420" width="1" height="38" fill="#000"/>
<rect x="812" y="422" width="3" height="9" fill="#000"/>
<rect x="813" y="423" width="1" height="7" fill="#f0147c"/>
<rect x="818" y="411" width="1" height="21" fill="#000"/>
<rect x="817" y="426" width="3" height="6" fill="#000"/>
<rect x="818" y="427" width="1" height="4" fill="#33bb22"/>
<rect x="822" y="425" width="1" height="85" fill="#000"/>
<rect x="821" y="426" width="3" height="77" fill="#000"/>
<rect x="822" y="427" width="1" height="75" fill="#f0147c"/>
<rect x="827" y="495" width="1" height="46" fill="#000"/>
<rect x="826" y="502" width="3" height="35" fill="#000"/>
<rect x="827" y="503" width="1" height="33" fill="#f0147c"/>
<rect x="832" y="508" width="1" height="47" fill="#000"/>
<rect x="831" y="517" width="3" height="20" fill="#000"/>
<rect x="832" y="518" width="1" height="18" fill="#33bb22"/>
<rect x="837" y="456" width="1" height="75" fill="#000"/>
<rect x="836" y="474" width="3" height="44" fill="#000"/>
<rect x="837" y="475" width="1" height="42" fill="#33bb22"/>
<rect x="842" y="369" width="1" height="106" fill="#000"/>
<rect x="841" y="374" width="3" height="101" fill="#000"/>
<rect x="842" y="375" width="1" height="99" fill="#33bb22"/>
<rect x="847" y="361" width="1" height="26" fill="#000"/>
<rect x="846" y="374" width="3" height="12" fill="#000"/>
<rect x="847" y="375" width="1" height="10" fill="#f0147c"/>
<rect x="851" y="371" width="1" height="45" fill="#000"/>
<rect x="850" y="385" width="3" height="30" fill="#000"/>
<rect x="851" y="386" width="1" height="28" fill="#f0147c"/>
<rect x="856" y="411" width="1" height="44" fill="#000"/>
<rect x="855" y="414" width="3" height="40" fill="#000"/>
<rect x="856" y="415" width="1" height="38" fill="#f0147c"/>
<rect x="861" y="443" width="1" height="42" fill="#000"/>
<rect x="860" y="452" width="3" height="33" fill="#000"/>
<rect x="861" y="453" width="1" height="31" fill="#f0147c"/>
<rect x="866" y="437" width="1" height="60" fill="#000"/>
<rect x="865" y="480" width="3" height="5" fill="#000"/>
<rect x="866" y="481" width="1" height="3" fill="#33bb22"/>
<rect x="871" y="438" width="1" height="56" fill="#000"/>
<rect x="870" y="446" width="3" height="35" fill="#000"/>
<rect x="871" y="447" width="1" height="33" fill="#33bb22"/>
<rect x="876" y="431" width="1" height="26" fill="#000"/>
<rect x="875" y="446" width="3" height="10" fill="#000"/>
<rect x="876" y="447" width="1" height="8" fill="#f0147c"/>
<rect x="880" y="417" width="1" height="42" fill="#000"/>
<rect x="879" y="421" width="3" height="31" fill="#000"/>
<rect x="880" y="422" width="1" height="29" fill="#33bb22"/>
<rect x="885" y="403" width="1" height="31" fill="#000"/>
<rect x="884" y="421" width="3" height="6" fill="#000"/>
<rect x="885" y="422" width="1" height="4" fill="#f0147c"/>
<rect x="890" y="410" width="1" height="44" fill="#000"/>
<rect x="889" y="426" width="3" height="5" fill="#000"/>
<rect x="890" y="427" width="1" height="3" fill="#f0147c"/>
<rect x="895" y="380" width="1" height="57" fill="#000"/>
<rect x="894" y="387" width="3" height="44" fill="#000"/>
<rect x="895" y="388" width="1" height="42" fill="#33bb22"/>
<rect x="900" y="358" width="1" height="35" fill="#000"/>
<rect x="899" y="380" width="3" height="8" fill="#000"/>
<rect x="900" y="381" width="1" height="6" fill="#33bb22"/>
<rect x="905" y="366" width="1" height="29" fill="#000"/>
<rect x="904" y="372" width="3" height="9" fill="#000"/>
<rect x="905" y="373" width="1" height="7" fill="#33bb22"/>
<rect x="910" y="359" width="1" height="28" fill="#000"/>
<rect x="909" y="372" width="3" height="11" fill="#000"/>
<rect x="910" y="373" width="1" height="9" fill="#f0147c"/>
<rect x="914" y="344" width="1" height="55" fill="#000"/>
<rect x="913" y="382" width="3" height="2" fill="#000" fill-opacity="0.8"/>
<rect x="919" y="381" width="1" height="27" fill="#000"/>
<rect x="918" y="383" width="3" height="12" fill="#000"/>
<rect x="919" y="384" width="1" height="10" fill="#f0147c"/>
<rect x="924" y="373" width="1" height="28" fill="#000"/>
<rect x="923" y="381" width="3" height="14" fill="#000"/>
<rect x="924" y="382" width="1" height="12" fill="#33bb22"/>
<rect x="929" y="368" width="1" height="39" fill="#000"/>
<rect x="928" y="381" width="3" height="19" fill="#000"/>
<rect x="929" y="382" width="1" height="17" fill="#f0147c"/>
<rect x="934" y="391" width="1" height="28" fill="#000"/>
<rect x="933" y="395" width="3" height="5" fill="#000"/>
<rect x="934" y="396" width="1" height="3" fill="#33bb22"/>
<rect x="939" y="377" width="1" height="35" fill="#000"/>
<rect x="938" y="395" width="3" height="11" fill="#000"/>
<rect x="939" y="396" width="1" height="9" fill="#f0147c"/>
<rect x="943" y="394" width="1" height="27" fill="#000"/>
<rect x="942" y="404" width="3" height="2" fill="#000" fill-opacity="0.8"/>
<rect x="948" y="391" width="1" height="61" fill="#000"/>
<rect x="947" y="402" width="3" height="2" fill="#000" fill-opacity="0.8"/>
<rect x="953" y="401" width="1" height="40" fill="#000"/>
<rect x="952" y="403" width="3" height="35" fill="#000"/>
<rect x="953" y="404" width="1" height="33" fill="#f0147c"/>
<rect x="958" y="419" width="1" height="63" fill="#000"/>
<rect x="957" y="437" width="3" height="19" fill="#000"/>
<rect x="958" y="438" width="1" height="17" fill="#f0147c"/>
<rect x="963" y="413" width="1" height="55" fill="#000"/>
<rect x="962" y="433" width="3" height="23" fill="#000"/>
<rect x="963" y="434" width="1" height="21" fill="#33bb22"/>
<rect x="968" y="417" width="1" height="23" fill="#000"/>
<rect x="967" y="425" width="3" height="9" fill="#000"/>
<rect x="968" y="426" width="1" height="7" fill="#33bb22"/>
<rect x="972" y="412" width="1" height="27" fill="#000"/>
<rect x="971" y="424" width="3" height="2" fill="#000" fill-opacity="0.8"/>
<rect x="977" y="397" width="1" height="33" fill="#000"/>
<rect x="976" y="401" width="3" height="25" fill="#000"/>
<rect x="977" y="402" width="1" height="23" fill="#33bb22"/>
<rect x="982" y="364" width="1" height="51" fill="#000"/>
<rect x="981" y="384" width="3" height="19" fill="#000"/>
<rect x="982" y="385" width="1" height="17" fill="#33bb22"/>
<rect x="987" y="312" width="1" height="91" fill="#000"/>
<rect x="986" y="325" width="3" height="60" fill="#000"/>
<rect x="987" y="326" width="1" height="58" fill="#33bb22"/>
<rect x="992" y="312" width="1" height="26" fill="#000"/>
<rect x="991" y="316" width="3" height="10" fill="#000"/>
<rect x="992" y="317" width="1" height="8" fill="#33bb22"/>
<rect x="997" y="301" width="1" height="30" fill="#000"/>
<rect x="996" y="304" width="3" height="13" fill="#000"/>
<rect x="997" y="305" width="1" height="11" fill="#33bb22"/>
<rect x="1002" y="272" width="1" height="39" fill="#000"/>
<rect x="1001" y="274" width="3" height="31" fill="#000"/>
<rect x="1002" y="275" width="1" height="29" fill="#33bb22"/>
<rect x="1006" y="271" width="1" height="40" fill="#000"/>
<rect x="1005" y="274" width="3" height="13" fill="#000"/>
<rect x="1006" y="275" width="1" height="11" fill="#f0147c"/>
<rect x="1011" y="275" width="1" height="15" fill="#000"/>
<rect x="1010" y="279" width="3" height="8" fill="#000"/>
<rect x="1011" y="280" width="1" height="6" fill="#33bb22"/>
<rect x="1016" y="277" width="1" height="238" fill="#000"/>
<rect x="1015" y="279" width="3" height="222" fill="#000"/>
<rect x="1016" y="280" width="1" height="220" fill="#f0147c"/>
<rect x="1021" y="467" width="1" height="48" fill="#000"/>
<rect x="1020" y="481" width="3" height="20" fill="#000"/>
<rect x="1021" y="482" width="1" height="18" fill="#33bb22"/>
<rect x="1026" y="409" width="1" height="87" fill="#000"/>
<rect x="1025" y="425" width="3" height="70" fill="#000"/>
<rect x="1026" y="426" width="1" height="68" fill="#33bb22"/>
<rect x="1031" y="410" width="1" height="35" fill="#000"/>
<rect x="1030" y="425" width="3" height="18" fill="#000"/>
<rect x="1031" y="426" width="1" height="16" fill="#f0147c"/>
<rect x="1035" y="426" width="1" height="31" fill="#000"/>
<rect x="1034" y="436" width="3" height="7" fill="#000"/>
<rect x="1035" y="437" width="1" height="5" fill="#33bb22"/>
<rect x="1040" y="418" width="1" height="24" fill="#000"/>
<rect x="1039" y="425" width="3" height="12" fill="#000"/>
<rect x="1040" y="426" width="1" height="10" fill="#33bb22"/>
<rect x="1045" y="393" width="1" height="42" fill="#000"/>
<rect x="1044" y="408" width="3" height="18" fill="#000"/>
<rect x="1045" y="409" width="1" height="16" fill="#33bb22"/>
<rect x="1050" y="364" width="1" height="47" fill="#000"/>
<rect x="1049" y="382" width="3" height="27" fill="#000"/>
<rect x="1050" y="383" width="1" height="25" fill="#33bb22"/>
<rect x="1055" y="370" width="1" height="98" fill="#000"/>
<rect x="1054" y="382" width="3" height="74" fill="#000"/>
<rect x="1055" y="383" width="1" height="72" fill="#f0147c"/>
<rect x="1060" y="377" width="1" height="79" fill="#000"/>
<rect x="1059" y="382" width="3" height="74" fill="#000"/>
<rect x="1060" y="383" width="1" height="72" fill="#33bb22"/>
<rect x="1064" y="367" width="1" height="46" fill="#000"/>
<rect x="1063" y="382" width="3" height="23" fill="#000"/>
<rect x="1064" y="383" width="1" height="21" fill="#f0147c"/>
<rect x="1069" y="394" width="1" height="37" fill="#000"/>
<rect x="1068" y="404" width="3" height="5" fill="#000"/>
<rect x="1069" y="405" width="1" height="3" fill="#f0147c"/>
<rect x="1074" y="388" width="1" height="68" fill="#000"/>
<rect x="1073" y="408" width="3" height="27" fill="#000"/>
<rect x="1074" y="409" width="1" height="25" fill="#f0147c"/>
<rect x="1079" y="407" width="1" height="31" fill="#000"/>
<rect x="1078" y="433" width="3" height="2" fill="#000" fill-opacity="0.8"/>
<rect x="1084" y="402" width="1" height="34" fill="#000"/>
<rect x="1083" y="403" width="3" height="31" fill="#000"/>
<rect x="1084" y="404" width="1" height="29" fill="#33bb22"/>
<rect x="1089" y="361" width="1" height="50" fill="#000"/>
<rect x="1088" y="363" width="3" height="41" fill="#000"/>
<rect x="1089" y="364" width="1" height="39" fill="#33bb22"/>
<rect x="1094" y="356" width="1" height="39" fill="#000"/>
<rect x="1093" y="363" width="3" height="4" fill="#000"/>
<rect x="1094" y="364" width="1" height="2" fill="#f0147c"/>
<rect x="1098" y="336" width="1" height="36" fill="#000"/>
<rect x="1097" y="349" width="3" height="18" fill="#000"/>
<rect x="1098" y="350" width="1" height="16" fill="#33bb22"/>
<rect x="1103" y="343" width="1" height="87" fill="#000"/>
<rect x="1102" y="349" width="3" height="80" fill="#000"/>
<rect x="1103" y="350" width="1" height="78" fill="#f0147c"/>
<rect x="1108" y="410" width="1" height="25" fill="#000"/>
<rect x="1107" y="424" width="3" height="5" fill="#000"/>
<rect x="1108" y="425" width="1" height="3" fill="#33bb22"/>
<rect x="1113" y="413" width="1" height="32" fill="#000"/>
<rect x="1112" y="424" width="3" height="12" fill="#000"/>
<rect x="1113" y="425" width="1" height="10" fill="#f0147c"/>
<rect x="1118" y="418" width="1" height="41" fill="#000"/>
<rect x="1117" y="435" width="3" height="16" fill="#000"/>
<rect x="1118" y="436" width="1" height="14" fill="#f0147c"/>
<rect x="1123" y="422" width="1" height="45" fill="#000"/>
<rect x="1122" y="447" width="3" height="4" fill="#000"/>
<rect x="1123" y="448" width="1" height="2" fill="#33bb22"/>
<rect x="1127" y="446" width="1" height="43" fill="#000"/>
<rect x="1126" y="447" width="3" height="10" fill="#000"/>
<rect x="1127" y="448" width="1" height="8" fill="#f0147c"/>
<rect x="1132" y="442" width="1" height="44" fill="#000"/>
<rect x="1131" y="456" width="3" height="30" fill="#000"/>
<rect x="1132" y="457" width="1" height="28" fill="#f0147c"/>
<rect x="1137" y="468" width="1" height="38" fill="#000"/>
<rect x="1136" y="475" width="3" height="11" fill="#000"/>
<rect x="1137" y="476" width="1" height="9" fill="#33bb22"/>
<rect x="1142" y="459" width="1" height="35" fill="#000"/>
<rect x="1141" y="475" width="3" height="12" fill="#000"/>
<rect x="1142" y="476" width="1" height="10" fill="#f0147c"/>
<rect x="1147" y="455" width="1" height="37" fill="#000"/>
<rect x="1146" y="478" width="3" height="10" fill="#000"/>
<rect x="1147" y="479" width="1" height="8" fill="#33bb22"/>
<rect x="1152" y="446" width="1" height="37" fill="#000"/>
<rect x="1151" y="473" width="3" height="6" fill="#000"/>
<rect x="1152" y="474" width="1" height="4" fill="#33bb22"/>
<rect x="1157" y="422" width="1" height="53" fill="#000"/>
<rect x="1156" y="432" width="3" height="42" fill="#000"/>
<rect x="1157" y="433" width="1" height="40" fill="#33bb22"/>
<rect x="1161" y="424" width="1" height="70" fill="#000"/>
<rect x="1160" y="432" width="3" height="46" fill="#000"/>
<rect x="1161" y="433" width="1" height="44" fill="#f0147c"/>
<rect x="1166" y="454" width="1" height="27" fill="#000"/>
<rect x="1165" y="463" width="3" height="15" fill="#000"/>
<rect x="1166" y="464" width="1" height="13" fill="#33bb22"/>
<rect x="1171" y="439" width="1" height="35" fill="#000"/>
<rect x="1170" y="442" width="3" height="22" fill="#000"/>
<rect x="1171" y="443" width="1" height="20" fill="#33bb22"/>
<rect x="1176" y="426" width="1" height="60" fill="#000"/>
<rect x="1175" y="442" width="3" height="22" fill="#000"/>
<rect x="1176" y="443" width="1" height="20" fill="#f0147c"/>
<rect x="1181" y="445" width="1" height="46" fill="#000"/>
<rect x="1180" y="463" width="3" height="7" fill="#000"/>
<rect x="1181" y="464" width="1" height="5" fill="#f0147c"/>
<rect x="1186" y="442" width="1" height="33" fill="#000"/>
<rect x="1185" y="445" width="3" height="25" fill="#000"/>
<rect x="1186" y="446" width="1" height="23" fill="#33bb22"/>
<rect x="1190" y="434" width="1" height="14" fill="#000"/>
<rect x="1189" y="442" width="3" height="4" fill="#000"/>
<rect x="1190" y="443" width="1" height="2" fill="#33bb22"/>
<rect x="1195" y="440" width="1" height="12" fill="#000"/>
<rect x="1194" y="442" width="3" height="8" fill="#000"/>
<rect x="1195" y="443" width="1" height="6" fill="#f0147c"/>
<rect x="1200" y="429" width="1" height="34" fill="#000"/>
<rect x="1199" y="434" width="3" height="16" fill="#000"/>
<rect x="1200" y="435" width="1" height="14" fill="#33bb22"/>
<rect x="1205" y="372" width="1" height="74" fill="#000"/>
<rect x="1204" y="387" width="3" height="48" fill="#000"/>
<rect x="1205" y="388" width="1" height="46" fill="#33bb22"/>
<rect x="1210" y="269" width="1" height="121" fill="#000"/>
<rect x="1209" y="308" width="3" height="81" fill="#000"/>
<rect x="1210" y="309" width="1" height="79" fill="#33bb22"/>
<rect x="1215" y="252" width="1" height="64" fill="#000"/>
<rect x="1214" y="266" width="3" height="43" fill="#000"/>
<rect x="1215" y="267" width="1" height="41" fill="#33bb22"/>
<rect x="1219" y="263" width="1" height="100" fill="#000"/>
<rect x="1218" y="266" width="3" height="59" fill="#000"/>
<rect x="1219" y="267" width="1" height="57" fill="#f0147c"/>
<rect x="1224" y="298" width="1" height="32" fill="#000"/>
<rect x="1223" y="317" width="3" height="8" fill="#000"/>
<rect x="1224" y="318" width="1" height="6" fill="#33bb22"/>
<rect x="1229" y="271" width="1" height="57" fill="#000"/>
<rect x="1228" y="273" width="3" height="45" fill="#000"/>
<rect x="1229" y="274" width="1" height="43" fill="#33bb22"/>
<rect x="1234" y="254" width="1" height="41" fill="#000"/>
<rect x="1233" y="273" width="3" height="19" fill="#000"/>
<rect x="1234" y="274" width="1" height="17" fill="#f0147c"/>
<rect x="1239" y="231" width="1" height="72" fill="#000"/>
<rect x="1238" y="290" width="3" height="2" fill="#000" fill-opacity="0.8"/>
<rect x="1244" y="268" width="1" height="41" fill="#000"/>
<rect x="1243" y="276" width="3" height="17" fill="#000"/>
<rect x="1244" y="277" width="1" height="15" fill="#33bb22"/>
<rect x="1249" y="269" width="1" height="98" fill="#000"/>
<rect x="1248" y="276" width="3" height="88" fill="#000"/>
<rect x="1249" y="277" width="1" height="86" fill="#f0147c"/>
<rect x="1253" y="339" width="1" height="31" fill="#000"/>
<rect x="1252" y="354" width="3" height="10" fill="#000"/>
<rect x="1253" y="355" width="1" height="8" fill="#33bb22"/>
<rect x="1258" y="338" width="1" height="28" fill="#000"/>
<rect x="1257" y="353" width="3" height="2" fill="#000" fill-opacity="0.8"/>
<rect x="1263" y="325" width="1" height="56" fill="#000"/>
<rect x="1262" y="330" width="3" height="25" fill="#000"/>
<rect x="1263" y="331" width="1" height="23" fill="#33bb22"/>
<rect x="1268" y="311" width="1" height="33" fill="#000"/>
<rect x="1267" y="330" width="3" height="4" fill="#000"/>
<rect x="1268" y="331" width="1" height="2" fill="#f0147c"/>
<rect x="1273" y="298" width="1" height="59" fill="#000"/>
<rect x="1272" y="309" width="3" height="25" fill="#000"/>
<rect x="1273" y="310" width="1" height="23" fill="#33bb22"/>
<rect x="1278" y="271" width="1" height="47" fill="#000"/>
<rect x="1277" y="288" width="3" height="22" fill="#000"/>
<rect x="1278" y="289" width="1" height="20" fill="#33bb22"/>
<rect x="1282" y="282" width="1" height="26" fill="#000"/>
<rect x="1281" y="288" width="3" height="16" fill="#000"/>
<rect x="1282" y="289" width="1" height="14" fill="#f0147c"/>
<rect x="1287" y="300" width="1" height="43" fill="#000"/>
<rect x="1286" y="303" width="3" height="36" fill="#000"/>
<rect x="1287" y="304" width="1" height="34" fill="#f0147c"/>
<rect x="1292" y="326" width="1" height="22" fill="#000"/>
<rect x="1291" y="333" width="3" height="6" fill="#000"/>
<rect x="1292" y="334" width="1" height="4" fill="#33bb22"/>
<rect x="1297" y="326" width="1" height="18" fill="#000"/>
<rect x="1296" y="333" width="3" height="7" fill="#000"/>
<rect x="1297" y="334" width="1" height="5" fill="#f0147c"/>
<rect x="1302" y="329" width="1" height="120" fill="#000"/>
<rect x="1301" y="339" width="3" height="97" fill="#000"/>
<rect x="1302" y="340" width="1" height="95" fill="#f0147c"/>
<rect x="1307" y="416" width="1" height="72" fill="#000"/>
<rect x="1306" y="435" width="3" height="18" fill="#000"/>
<rect x="1307" y="436" width="1" height="16" fill="#f0147c"/>
<rect x="1311" y="412" width="1" height="41" fill="#000"/>
<rect x="1310" y="429" width="3" height="24" fill="#000"/>
<rect x="1311" y="430" width="1" height="22" fill="#33bb22"/>
<rect x="1316" y="293" width="1" height="74" fill="#000"/>
<rect x="1315" y="319" width="3" height="26" fill="#000"/>
<rect x="1316" y="320" width="1" height="24" fill="#33bb22"/>
<rect x="1321" y="314" width="1" height="44" fill="#000"/>
<rect x="1320" y="319" width="3" height="21" fill="#000"/>
<rect x="1321" y="320" width="1" height="19" fill="#f0147c"/>
<rect x="1326" y="336" width="1" height="80" fill="#000"/>
<rect x="1325" y="339" width="3" height="53" fill="#000"/>
<rect x="1326" y="340" width="1" height="51" fill="#f0147c"/>
<rect x="1331" y="370" width="1" height="25" fill="#000"/>
<rect x="1330" y="389" width="3" height="2" fill="#000" fill-opacity="0.8"/>
<rect x="1336" y="371" width="1" height="37" fill="#000"/>
<rect x="1335" y="389" width="3" height="2" fill="#000" fill-opacity="0.8"/>
<rect x="1341" y="382" width="1" height="48" fill="#000"/>
<rect x="1340" y="391" width="3" height="26" fill="#000"/>
<rect x="1341" y="392" width="1" height="24" fill="#f0147c"/>
<rect x="1345" y="409" width="1" height="41" fill="#000"/>
<rect x="1344" y="416" width="3" height="14" fill="#000"/>
<rect x="1345" y="417" width="1" height="12" fill="#f0147c"/>
<rect x="1350" y="423" width="1" height="34" fill="#000"/>
<rect x="1349" y="429" width="3" height="28" fill="#000"/>
<rect x="1350" y="430" width="1" height="26" fill="#f0147c"/>
<rect x="10" y="760" width="1" height="2" fill="#555"/>
</g>
<g fill="#3c96f3">
<rect x="1211" y="570.5" width="307" height="43.7" rx="8" ry="8"/>
<polygon points="1356.7,571 1364.3,511 1372.5,571"/>
</g>
<text y="599.2" font-size="24" fill="#ffffff" stroke="#ffffff" stroke-width="0.35"><tspan x="1220.0" textLength="65.5" lengthAdjust="spacingAndGlyphs">Range</tspan> <tspan x="1292.6" textLength="80.8" lengthAdjust="spacingAndGlyphs">support</tspan> <tspan x="1380.6" textLength="47" lengthAdjust="spacingAndGlyphs">near</tspan> <tspan x="1436.6" textLength="73" lengthAdjust="spacingAndGlyphs">146.50</tspan></text>
<text y="39.7" font-size="29" fill="#000" stroke="#000" stroke-width="0.3"><tspan x="16.4" textLength="48.6" lengthAdjust="spacingAndGlyphs">USD</tspan><tspan x="67.3">/</tspan><tspan x="79.6" textLength="51.5" lengthAdjust="spacingAndGlyphs">JPY:</tspan> <tspan x="140.3" textLength="82.5" lengthAdjust="spacingAndGlyphs">4-hour</tspan></text>
<text class="ax" x="1870.5" y="29.1" textLength="48.8" lengthAdjust="spacingAndGlyphs">151.000</text>
<text class="ax" x="1870.5" y="84.6" textLength="48.8" lengthAdjust="spacingAndGlyphs">150.500</text>
<text class="ax" x="1870.5" y="140.1" textLength="48.8" lengthAdjust="spacingAndGlyphs">150.000</text>
<text class="ax" x="1870.5" y="195.6" textLength="48.8" lengthAdjust="spacingAndGlyphs">149.500</text>
<text class="ax" x="1870.5" y="251.1" textLength="48.8" lengthAdjust="spacingAndGlyphs">149.000</text>
<text class="ax" x="1870.5" y="306.6" textLength="48.8" lengthAdjust="spacingAndGlyphs">148.500</text>
<text class="ax" x="1870.5" y="362.1" textLength="48.8" lengthAdjust="spacingAndGlyphs">148.000</text>
<text class="ax" x="1870.5" y="417.6" textLength="48.8" lengthAdjust="spacingAndGlyphs">147.500</text>
<text class="ax" x="1870.5" y="473.1" textLength="48.8" lengthAdjust="spacingAndGlyphs">147.000</text>
<text class="ax" x="1870.5" y="528.6" textLength="48.8" lengthAdjust="spacingAndGlyphs">146.500</text>
<text class="ax" x="1870.5" y="584.1" textLength="48.8" lengthAdjust="spacingAndGlyphs">146.000</text>
<text class="ax" x="1870.5" y="639.6" textLength="48.8" lengthAdjust="spacingAndGlyphs">145.500</text>
<text class="ax" x="1870.5" y="695.1" textLength="48.8" lengthAdjust="spacingAndGlyphs">145.000</text>
<text class="ax" x="1870.5" y="750.6" textLength="48.8" lengthAdjust="spacingAndGlyphs">144.500</text>
<text class="ax" x="1870.5" y="806.1" textLength="48.8" lengthAdjust="spacingAndGlyphs">144.000</text>
<rect x="1804" y="446" width="121" height="21" rx="2.5" ry="2.5" fill="#fc0876"/>
<rect x="1860" y="446" width="1" height="21" fill="#fd5fa6" shape-rendering="crispEdges"/>
<text x="1809" y="461.9" font-size="13.8" fill="#fff" textLength="45.8" lengthAdjust="spacingAndGlyphs">USDJPY</text>
<text x="1870.7" y="461.9" font-size="13.8" fill="#fff" textLength="48.4" lengthAdjust="spacingAndGlyphs">147.107</text>
<text class="tm" x="76.75" y="871.3">9</text>
<text class="tm" x="154.25" y="871.3" textLength="14.0" lengthAdjust="spacingAndGlyphs">13</text>
<text class="tm" x="222" y="871.3" textLength="14.0" lengthAdjust="spacingAndGlyphs">16</text>
<text class="tm" x="299.25" y="871.3" textLength="14.0" lengthAdjust="spacingAndGlyphs">20</text>
<text class="tm" x="367" y="871.3" textLength="14.0" lengthAdjust="spacingAndGlyphs">23</text>
<text class="tm" x="444.5" y="871.3" textLength="14.0" lengthAdjust="spacingAndGlyphs">27</text>
<text class="tmb" x="570" y="871.3" textLength="24.7" lengthAdjust="spacingAndGlyphs">Aug</text>
<text class="tm" x="657.5" y="871.3">6</text>
<text class="tm" x="735" y="871.3" textLength="14.0" lengthAdjust="spacingAndGlyphs">10</text>
<text class="tm" x="803" y="871.3" textLength="14.0" lengthAdjust="spacingAndGlyphs">13</text>
<text class="tm" x="880.5" y="871.3" textLength="14.0" lengthAdjust="spacingAndGlyphs">17</text>
<text class="tm" x="948" y="871.3" textLength="14.0" lengthAdjust="spacingAndGlyphs">20</text>
<text class="tm" x="1025.5" y="871.3" textLength="14.0" lengthAdjust="spacingAndGlyphs">24</text>
<text class="tm" x="1093" y="871.3" textLength="14.0" lengthAdjust="spacingAndGlyphs">27</text>
<text class="tmb" x="1180" y="871.3" textLength="23.3" lengthAdjust="spacingAndGlyphs">Sep</text>
<text class="tm" x="1268" y="871.3">4</text>
<text class="tm" x="1355" y="871.3">9</text>
<text class="tm" x="1442" y="871.3" textLength="14.0" lengthAdjust="spacingAndGlyphs">12</text>
<text class="tm" x="1529.5" y="871.3" textLength="14.0" lengthAdjust="spacingAndGlyphs">17</text>
<text class="tm" x="1606" y="871.3" textLength="14.0" lengthAdjust="spacingAndGlyphs">21</text>
<text class="tm" x="1674.5" y="871.3" textLength="14.0" lengthAdjust="spacingAndGlyphs">24</text>
<text class="tm" x="1752" y="871.3" textLength="14.0" lengthAdjust="spacingAndGlyphs">28</text>
<text class="tmb" x="1820" y="871.3" textLength="21.2" lengthAdjust="spacingAndGlyphs">Oct</text>
<g fill="#131313">
<path d="M12,905.2 H24 V919.9 H18 V910.6 H12 Z"/>
<circle cx="28.9" cy="908.2" r="2.85"/>
<path d="M34.5,905.2 H41.7 L36.5,919.9 H29.3 Z"/>
<text x="48.6" y="919.9" font-size="21.2" font-weight="bold" textLength="121" lengthAdjust="spacingAndGlyphs">TradingView</text>
</g>
</svg></body></html>
